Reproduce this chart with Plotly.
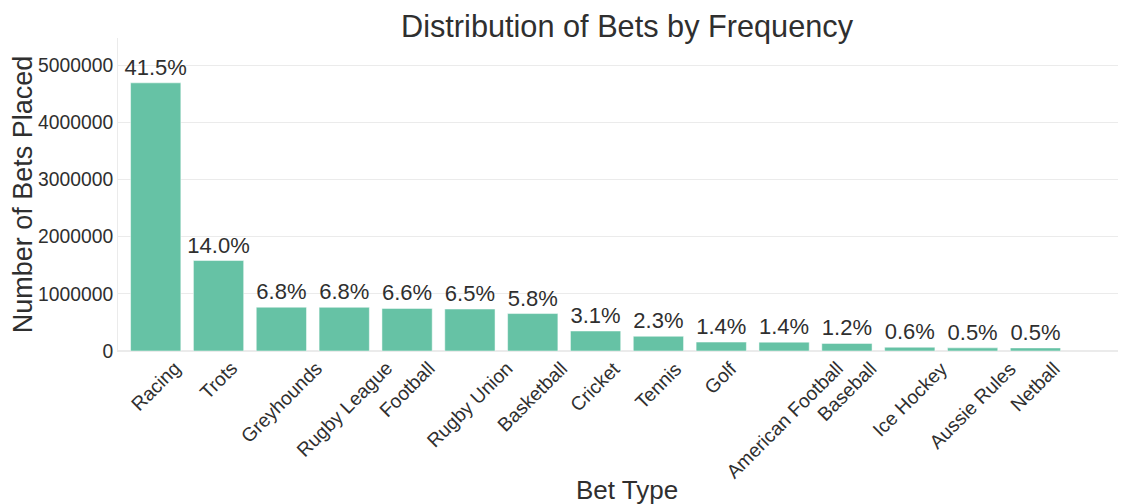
import plotly.graph_objects as go

categories = ["Racing", "Trots", "Greyhounds", "Rugby League", "Football",
              "Rugby Union", "Basketball", "Cricket", "Tennis", "Golf",
              "American Football", "Baseball", "Ice Hockey", "Aussie Rules", "Netball"]
bets_placed = [4690000, 1582000, 766000, 764000, 745000,
               734000, 655000, 350000, 258000, 156000,
               155000, 133000, 66000, 55000, 54000]
pct_labels = ["41.5%", "14.0%", "6.8%", "6.8%", "6.6%", "6.5%", "5.8%", "3.1%",
              "2.3%", "1.4%", "1.4%", "1.2%", "0.6%", "0.5%", "0.5%"]

FONT = "Liberation Sans, Arial, sans-serif"
TXT = "#2f2f2f"
GRID = "#ebebeb"

fig = go.Figure(go.Bar(
    x=categories, y=bets_placed, text=pct_labels, textposition="outside",
    textfont=dict(size=22, color=TXT, family=FONT),
    constraintext="none",
    marker=dict(color="#66c2a5", line=dict(color="white", width=0.5)),
    cliponaxis=False,
))

# rotated category labels, centred under each bar
for cat in categories:
    fig.add_annotation(
        x=cat, xref="x", y=0, yref="paper", yshift=-4,
        text=cat, textangle=-45, showarrow=False,
        xanchor="center", yanchor="top",
        font=dict(size=19.3, color=TXT, family=FONT),
    )

# x-axis title
fig.add_annotation(
    x=0.5, xref="paper", y=-(490 - 351) / 313, yref="paper",
    text="Bet Type", showarrow=False, xanchor="center", yanchor="middle",
    font=dict(size=26, color=TXT, family=FONT),
)

fig.update_layout(
    width=1128, height=504,
    margin=dict(l=110, r=0, t=30, b=161),
    paper_bgcolor="white", plot_bgcolor="white",
    font=dict(family=FONT, color=TXT, size=19.3),
    title=dict(text="Distribution of Bets by Frequency", xref="paper", x=0.5,
               xanchor="center", y=1 - 18/504, yanchor="middle",
               font=dict(size=30.7, color=TXT)),
    bargap=0.2,
    showlegend=False,
)
fig.update_xaxes(
    showticklabels=False, automargin=False,
    range=[-0.6, 15.6], showline=True, linecolor=GRID, linewidth=1,
    showgrid=False, ticks="",
)
fig.update_yaxes(
    title=dict(text="Number of Bets Placed", font=dict(size=27, color=TXT), standoff=0),
    tickfont=dict(size=19.3, color=TXT), tickformat="d", automargin=False,
    range=[0, 5474000], dtick=1000000,
    showgrid=True, gridcolor=GRID, gridwidth=1,
    showline=True, linecolor=GRID, linewidth=1,
    zeroline=True, zerolinecolor=GRID, ticks="",
)

fig.write_html("out.html")
